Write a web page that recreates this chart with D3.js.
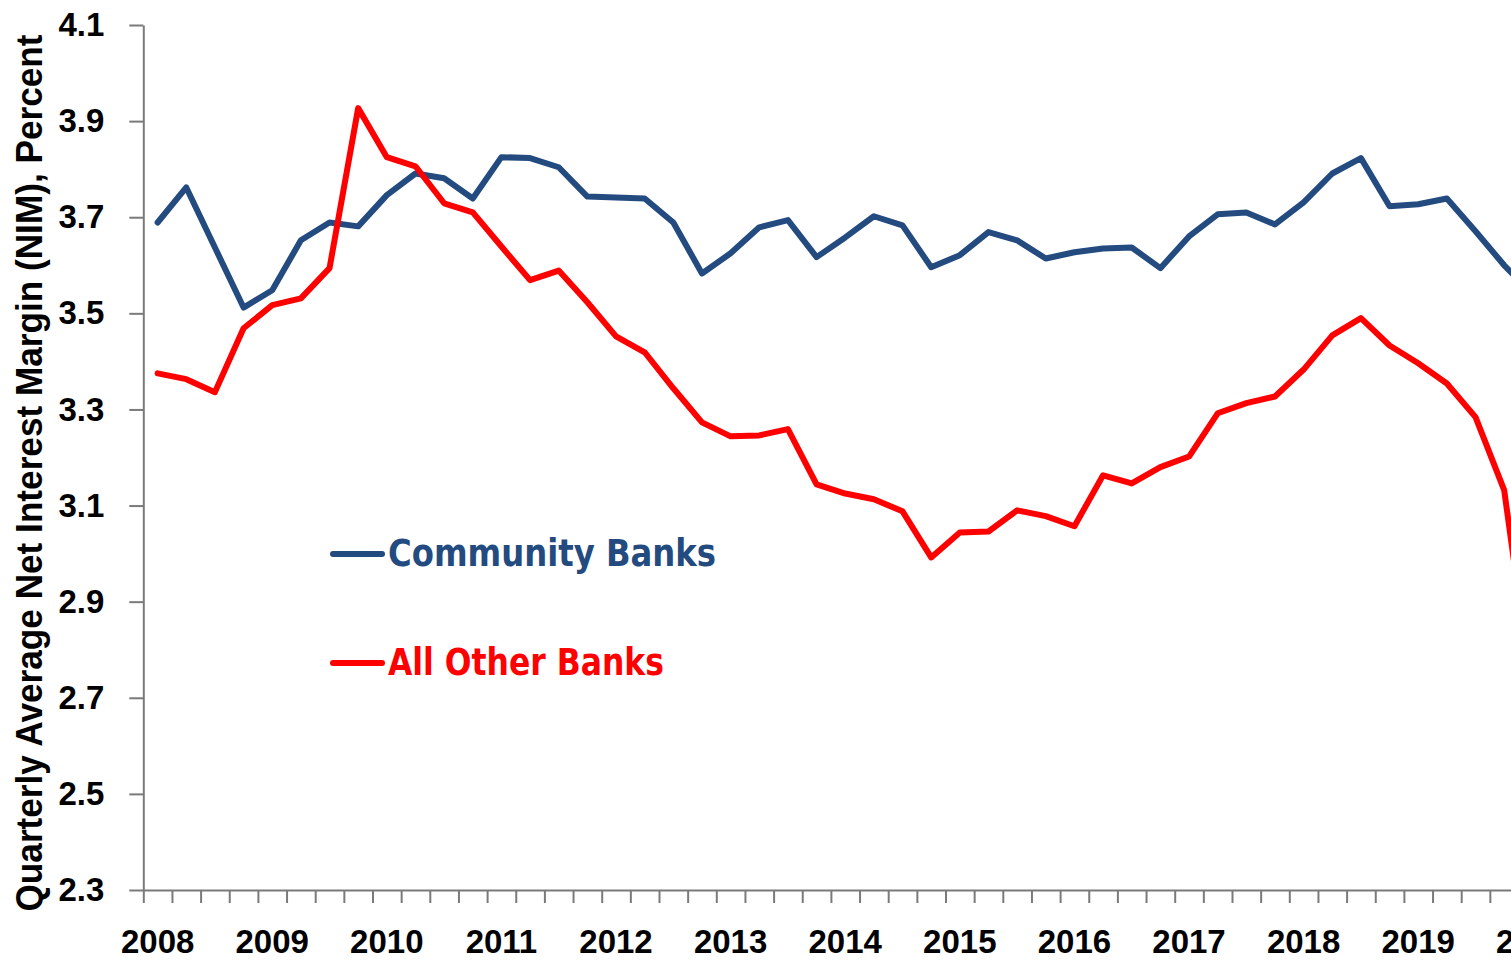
<!DOCTYPE html>
<html>
<head>
<meta charset="utf-8">
<script src="https://cdn.jsdelivr.net/npm/d3@7"></script>
<style>
  html, body { margin: 0; padding: 0; background: #fff; }
  svg { display: block; overflow: hidden; }
  .axis path, .axis line { stroke: #7a7a7a; stroke-width: 2px; }
  .axis text { font-family: "Liberation Sans", Arial, sans-serif; font-weight: bold; font-size: 33px; fill: #000; }
  .line { fill: none; stroke-width: 6px; stroke-linejoin: round; stroke-linecap: round; }
  .line-community { stroke: #234b80; }
  .line-other { stroke: #ff0000; }
</style>
</head>
<body>
<div id="nim-chart"></div>
<script>
// Year labels on the category axis (one label every 4 quarters)
const years = ["2008", "2009", "2010", "2011", "2012", "2013", "2014",
               "2015", "2016", "2017", "2018", "2019", "2020"];

// Quarterly categories 2008Q1 .. 2020Q1
const quarters = years.flatMap(y => ["Q1", "Q2", "Q3", "Q4"].map(q => y + q)).slice(0, 49);

// Quarterly average NIM, percent
const communityBanks = [3.689, 3.762, 3.637, 3.512, 3.548, 3.652, 3.689, 3.681, 3.746, 3.791,
                        3.781, 3.739, 3.825, 3.823, 3.804, 3.743, 3.741, 3.739, 3.689, 3.583,
                        3.625, 3.679, 3.694, 3.617, 3.658, 3.702, 3.683, 3.596, 3.621, 3.669,
                        3.652, 3.614, 3.627, 3.635, 3.637, 3.594, 3.660, 3.706, 3.710, 3.685,
                        3.731, 3.791, 3.823, 3.723, 3.727, 3.739, 3.671, 3.600, 3.540];

const allOtherBanks = [3.375, 3.363, 3.336, 3.469, 3.517, 3.531, 3.594, 3.927, 3.825, 3.806,
                       3.729, 3.710, 3.639, 3.569, 3.589, 3.523, 3.452, 3.419, 3.344, 3.273,
                       3.244, 3.246, 3.259, 3.144, 3.125, 3.113, 3.088, 2.992, 3.044, 3.046,
                       3.090, 3.078, 3.057, 3.163, 3.146, 3.180, 3.202, 3.292, 3.313, 3.327,
                       3.383, 3.454, 3.490, 3.433, 3.396, 3.354, 3.284, 3.132, 2.700];

const yTicks = [2.3, 2.5, 2.7, 2.9, 3.1, 3.3, 3.5, 3.7, 3.9, 4.1];

const totalWidth = 1511;
const totalHeight = 960;
const margin = { top: 25, left: 143.3, bottom: 70 };
const step = 28.65;                       // width of one quarter
const plotHeight = totalHeight - margin.top - margin.bottom;

const svg = d3.select("#nim-chart")
    .append("svg")
    .attr("width", totalWidth)
    .attr("height", totalHeight);

const g = svg.append("g")
    .attr("transform", `translate(${margin.left}, ${margin.top})`);

// x: category index -> position, categories are centred between ticks
const xScale = d3.scaleLinear()
    .domain([-0.5, quarters.length - 0.5])
    .range([0, step * quarters.length]);

const yScale = d3.scaleLinear()
    .domain([2.3, 4.1])
    .range([plotHeight, 0]);

// y axis
g.append("g")
    .attr("class", "axis y-axis")
    .call(d3.axisLeft(yScale)
        .tickValues(yTicks)
        .tickFormat(d3.format(".1f"))
        .tickSize(14)
        .tickSizeOuter(0)
        .tickPadding(25));

// x axis, a tick at every quarter boundary
const boundaries = d3.range(quarters.length + 1).map(i => i - 0.5);
g.append("g")
    .attr("class", "axis x-axis")
    .attr("transform", `translate(0, ${plotHeight})`)
    .call(d3.axisBottom(xScale)
        .tickValues(boundaries)
        .tickFormat("")
        .tickSize(13)
        .tickSizeOuter(0));

// year labels under the first quarter of each year
g.append("g")
    .attr("class", "axis")
    .selectAll("text")
    .data(years)
    .join("text")
    .attr("x", (d, i) => xScale(i * 4))
    .attr("y", plotHeight + 63)
    .attr("text-anchor", "middle")
    .text(d => d);

// lines
const line = d3.line()
    .x((d, i) => xScale(i))
    .y(d => yScale(d));

g.append("path")
    .datum(communityBanks)
    .attr("class", "line line-community")
    .attr("d", line);

g.append("path")
    .datum(allOtherBanks)
    .attr("class", "line line-other")
    .attr("d", line);

// y-axis title
svg.append("text")
    .attr("transform", "rotate(-90)")
    .attr("x", -473)
    .attr("y", 42)
    .attr("text-anchor", "middle")
    .attr("textLength", 877)
    .attr("lengthAdjust", "spacingAndGlyphs")
    .style("font-family", "'Liberation Sans', Arial, sans-serif")
    .style("font-weight", "bold")
    .style("font-size", "37px")
    .text("Quarterly Average Net Interest Margin (NIM), Percent");

// legend
const legendItems = [
    { name: "Community Banks", cls: "line-community", color: "#234b80", y: 554, width: 328 },
    { name: "All Other Banks", cls: "line-other", color: "#ff0000", y: 663, width: 276 }
];

const legend = svg.append("g").attr("class", "legend");

legendItems.forEach(item => {
    legend.append("line")
        .attr("class", "line " + item.cls)
        .attr("x1", 333)
        .attr("x2", 382)
        .attr("y1", item.y)
        .attr("y2", item.y);

    legend.append("text")
        .attr("x", 388)
        .attr("y", item.y + 12)
        .attr("textLength", item.width)
        .attr("lengthAdjust", "spacingAndGlyphs")
        .style("font-family", "'DejaVu Sans', Verdana, sans-serif")
        .style("font-weight", "bold")
        .style("font-size", "37px")
        .style("fill", item.color)
        .text(item.name);
});
</script>
</body>
</html>
